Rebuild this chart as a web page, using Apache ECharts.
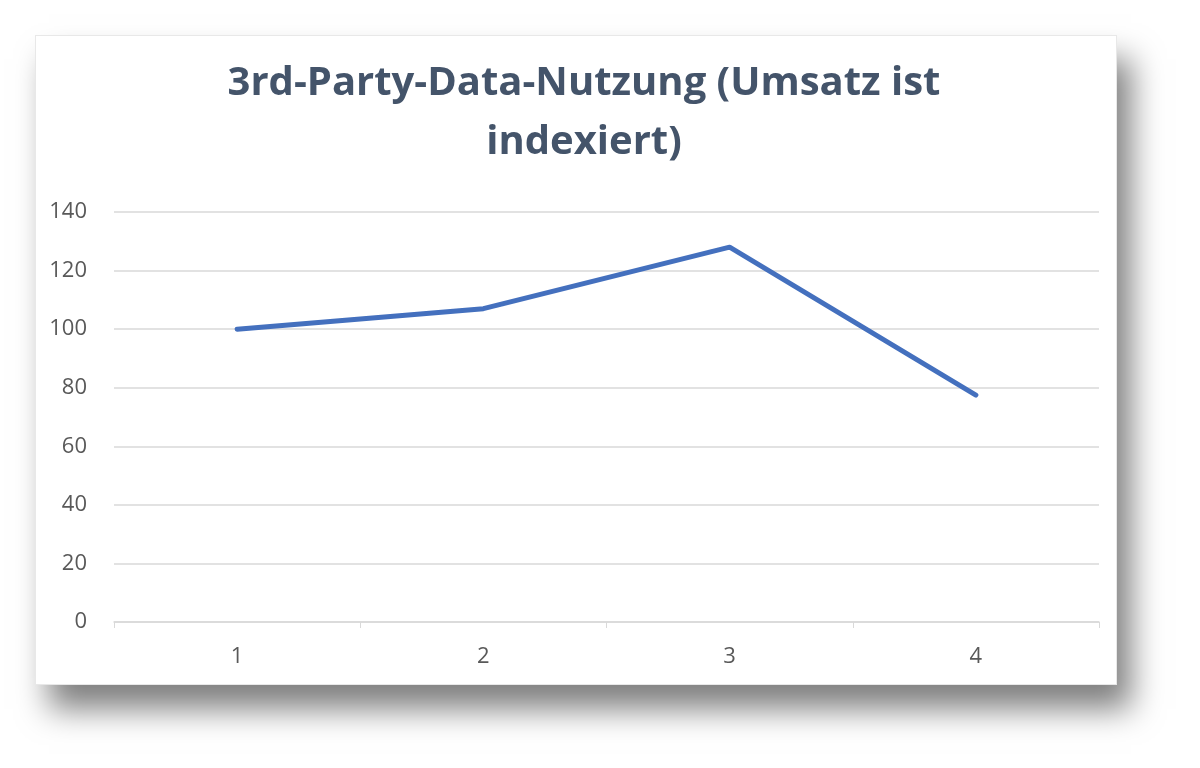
<!DOCTYPE html>
<html>
<head>
<meta charset="utf-8">
<script src="https://cdn.jsdelivr.net/npm/echarts@6/dist/echarts.min.js"></script>
<style>
  html, body { margin: 0; padding: 0; background: #ffffff; width: 1200px; height: 768px; overflow: hidden; }
  #card {
    position: absolute; left: 35px; top: 35px; width: 1082px; height: 650px;
    background: #ffffff;
    box-shadow: 14px 24px 30px rgba(0,0,0,0.5);
    border: 1px solid #e8e8e8; box-sizing: border-box;
  }
  #chart { width: 100%; height: 100%; }
</style>
</head>
<body>
<div id="card"><div id="chart"></div></div>
<script>
const titleText = "3rd-Party-Data-Nutzung (Umsatz ist\nindexiert)";
const categories = ["1", "2", "3", "4"];
const values = [100, 107, 128, 77.5];
const yTicks = { min: 0, max: 140, interval: 20 };

const chart = echarts.init(document.getElementById('chart'));
chart.setOption({
  animation: false,
  backgroundColor: '#ffffff',
  title: {
    text: titleText,
    left: 543,
    top: 13,
    textAlign: 'center',
    textStyle: {
      fontFamily: 'Open Sans',
      fontWeight: 'bold',
      fontSize: 40,
      lineHeight: 59,
      color: '#44546A'
    }
  },
  grid: { left: 78, right: 17, top: 176, bottom: 62, containLabel: false },
  xAxis: {
    type: 'category',
    data: categories,
    boundaryGap: true,
    axisLine: { show: true, lineStyle: { color: '#d9d9d9', width: 1.5 } },
    axisTick: { show: true, alignWithLabel: false, length: 6, lineStyle: { color: '#d9d9d9' } },
    axisLabel: { color: '#595959', fontSize: 22, fontFamily: 'Open Sans', margin: 24 },
    splitLine: { show: false }
  },
  yAxis: {
    type: 'value',
    min: yTicks.min,
    max: yTicks.max,
    interval: yTicks.interval,
    axisLine: { show: false },
    axisTick: { show: false },
    axisLabel: { color: '#595959', fontSize: 22, fontFamily: 'Open Sans', margin: 27 },
    splitLine: { show: true, lineStyle: { color: '#d9d9d9', width: 1.5 } }
  },
  series: [{
    type: 'line',
    data: values,
    symbol: 'none',
    lineStyle: { color: '#4470BE', width: 5, cap: 'round', join: 'round' },
    itemStyle: { color: '#4470BE' }
  }]
});
</script>
</body>
</html>
